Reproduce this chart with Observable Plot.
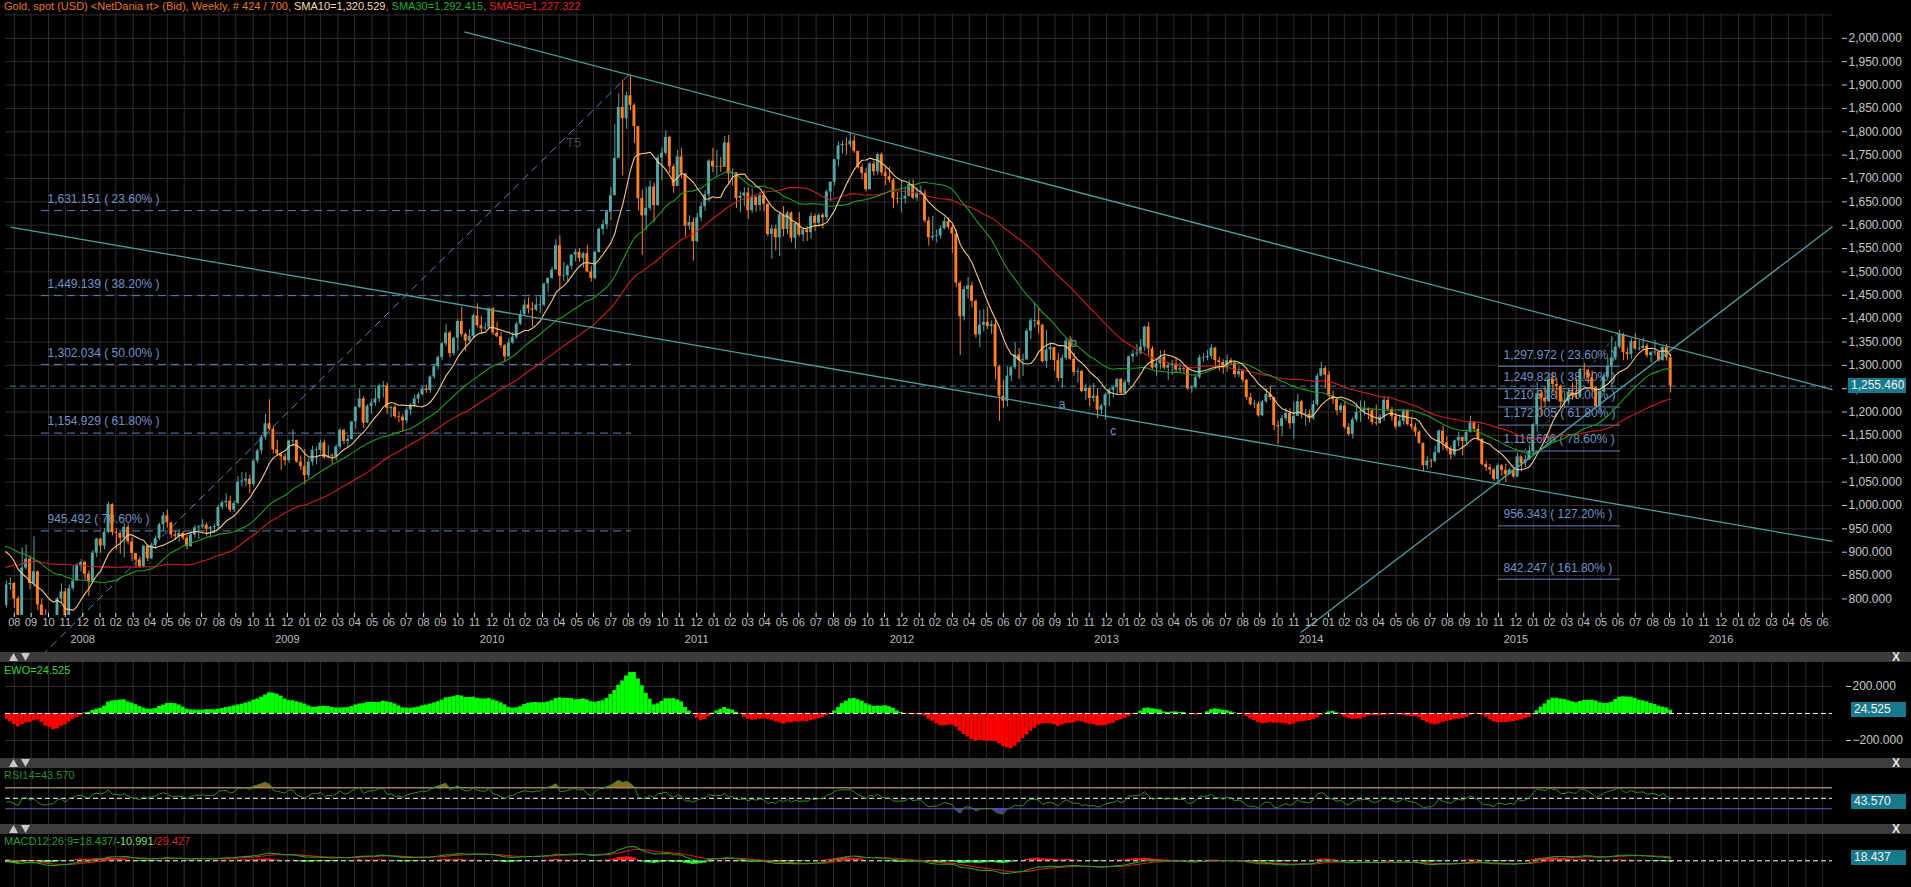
<!DOCTYPE html>
<html><head><meta charset="utf-8">
<script src="https://cdn.jsdelivr.net/npm/d3@7"></script>
<script src="https://cdn.jsdelivr.net/npm/@observablehq/plot@0.6"></script>
<style>
html,body{margin:0;padding:0;background:#000;}
#wrap{position:relative;width:1911px;height:887px;overflow:hidden;background:#000;font-family:"Liberation Sans",Arial,sans-serif;}
.bar{position:absolute;left:0;width:1911px;height:10px;background:#3c3c3c;}
.tri{position:absolute;left:9px;top:1px;}
.xx{position:absolute;left:1892px;top:-1px;font-size:12px;line-height:12px;color:#e6e6e6;font-weight:bold;}
.box{position:absolute;background:#177a8c;color:#f2f2f2;font-size:12px;line-height:15px;height:15px;padding-left:3px;box-sizing:border-box;}
.plabel{position:absolute;left:4px;font-size:11px;line-height:12px;white-space:nowrap;}
#title{position:absolute;left:4px;top:0;font-size:11px;line-height:12px;white-space:nowrap;color:#e8782a;}
</style></head>
<body><div id="wrap"></div>
<script>
// ---------------- DATA ----------------
// weekly gold spot closes before the visible range (Sep 2007 .. Aug 15 2008), used for moving averages
const preCloses = [698,713,732,743,737,750,766,784,806,834,789,824,783,800,798,812,842,
865,896,880,913,908,926,907,949,975,972,1001,920,933,912,925,913,889,853,885,894,925,887,903,871,903,928,933,960,953,927,914,864,786];
const firstOpen = 786;
const firstWeek = 2; // week index of first visible candle (weeks since Mon Aug 4 2008)
const closes = [
830,833,800,765,866,885,833,858,787,735,723,735,746,800,815,755,822,838,872,
878,853,838,898,928,913,943,1002,942,940,930,953,922,897,883,869,913,886,915,929,959,978,963,937,934,940,930,912,937,952,954,958,949,953,955,996,1006,1009,990,1004,1050,1052,1056,1045,1095,1117,1146,1175,1163,1119,1110,1104,
1096,1138,1139,1093,1083,1064,1093,1118,1118,1134,1102,1106,1105,1125,1161,1137,1141,1179,1210,1228,1176,1212,1219,1228,1256,1256,1208,1210,1190,1189,1181,1204,1215,1228,1237,1249,1246,1275,1297,1317,1346,1369,1325,1358,1394,1366,1352,1362,1406,1385,1378,1380,1421,
1369,1361,1342,1318,1348,1360,1388,1409,1429,1421,1418,1429,1429,1474,1486,1504,1556,1491,1492,1512,1536,1542,1529,1539,1500,1486,1542,1591,1601,1628,1663,1743,1852,1828,1877,1856,1811,1657,1620,1636,1682,1642,1744,1754,1788,1725,1683,1746,1710,1598,1606,1565,
1616,1640,1665,1737,1725,1725,1724,1776,1710,1712,1657,1662,1669,1631,1660,1642,1663,1645,1580,1592,1573,1622,1591,1626,1572,1604,1579,1590,1584,1619,1604,1621,1616,1671,1692,1740,1770,1773,1772,1780,1758,1724,1711,1676,1731,1714,1751,1712,1704,1696,1657,1656,
1656,1662,1687,1658,1667,1667,1609,1573,1576,1577,1592,1608,1595,1581,1476,1404,1462,1470,1437,1365,1386,1392,1383,1387,1297,1234,1223,1277,1295,1322,1310,1312,1373,1395,1395,1386,1308,1333,1338,1310,1272,1315,1352,1313,1285,1287,1244,1251,1229,1234,1204,1213,
1237,1247,1252,1270,1240,1263,1318,1324,1326,1339,1382,1335,1294,1303,1318,1294,1300,1302,1290,1293,1292,1250,1252,1274,1316,1316,1319,1337,1310,1306,1294,1310,1305,1280,1287,1268,1231,1216,1217,1192,1222,1238,1231,1171,1169,1186,1197,1175,1191,1222,1195,1195,
1186,1216,1277,1293,1279,1234,1227,1203,1213,1167,1152,1183,1199,1201,1207,1203,1177,1175,1189,1225,1205,1190,1168,1180,1201,1173,1168,1157,1133,1085,1095,1094,1113,1159,1134,1121,1108,1138,1146,1137,1156,1177,1163,1142,1088,1081,1076,1056,1085,1075,1066,1076,
1061,1104,1089,1097,1116,1173,1239,1230,1222,1270,1259,1255,1221,1222,1243,1234,1232,1291,1290,1273,1252,1212,1243,1275,1298,1316,1339,1366,1327,1323,1351,1335,1336,1341,1321,1327,1328,1310,1338,1316,1255.46];
const highs = [
838,845,835,805,909,915,892,933,860,800,776,760,760,803,832,822,830,870,876,
884,881,860,903,930,930,950,1007,1004,950,942,962,960,932,895,890,915,915,920,935,962,985,990,960,945,948,945,936,940,958,957,970,962,955,960,1000,1010,1025,1020,1010,1062,1070,1070,1065,1098,1120,1150,1195,1226,1168,1140,1110,
1110,1140,1162,1140,1106,1120,1100,1127,1125,1140,1140,1128,1110,1130,1165,1162,1150,1180,1212,1249,1233,1216,1227,1250,1260,1265,1262,1213,1215,1200,1195,1210,1218,1236,1241,1253,1258,1278,1300,1320,1349,1387,1373,1360,1398,1424,1370,1376,1410,1432,1405,1390,1423,
1423,1392,1371,1345,1357,1370,1392,1417,1440,1445,1435,1446,1447,1476,1487,1510,1569,1577,1520,1515,1537,1548,1550,1542,1557,1512,1545,1594,1611,1632,1680,1815,1881,1911,1884,1921,1860,1810,1675,1680,1695,1690,1750,1765,1802,1790,1730,1760,1764,1710,1620,1615,
1625,1648,1673,1740,1764,1760,1745,1790,1792,1720,1712,1672,1680,1680,1677,1660,1670,1673,1645,1600,1600,1627,1640,1630,1628,1606,1627,1592,1597,1626,1624,1625,1625,1675,1693,1741,1778,1780,1787,1796,1792,1756,1730,1722,1735,1737,1754,1755,1723,1724,1700,1670,
1693,1680,1696,1697,1680,1684,1675,1617,1619,1590,1598,1617,1615,1600,1590,1480,1469,1488,1478,1440,1417,1420,1424,1395,1397,1300,1268,1297,1298,1348,1336,1324,1378,1400,1434,1423,1387,1374,1347,1337,1326,1322,1356,1362,1326,1294,1290,1260,1256,1261,1250,1217,
1240,1251,1256,1272,1272,1268,1320,1332,1345,1355,1384,1392,1340,1310,1331,1332,1306,1310,1315,1305,1299,1296,1256,1277,1322,1325,1332,1345,1338,1317,1312,1322,1315,1305,1297,1290,1270,1240,1225,1222,1225,1250,1255,1230,1180,1193,1208,1207,1221,1238,1225,1205,
1204,1224,1282,1307,1297,1287,1245,1230,1219,1223,1175,1188,1219,1224,1223,1209,1205,1215,1195,1232,1232,1210,1198,1194,1205,1205,1187,1175,1160,1133,1105,1099,1127,1162,1170,1147,1126,1140,1157,1140,1159,1191,1178,1173,1142,1095,1088,1080,1089,1088,1088,1080,
1080,1112,1098,1107,1127,1175,1263,1246,1253,1280,1284,1272,1258,1244,1251,1262,1271,1293,1304,1290,1288,1255,1247,1280,1315,1362,1350,1375,1368,1337,1357,1368,1353,1358,1346,1330,1353,1330,1340,1345,1323];
const lows = [
780,818,780,740,760,862,820,825,775,681,700,712,705,730,790,740,752,818,838,
858,840,805,835,888,898,905,940,935,905,896,888,915,880,866,865,866,880,884,906,925,945,952,930,925,921,925,905,910,930,927,950,935,930,940,950,990,995,985,985,1003,1040,1040,1025,1040,1090,1110,1140,1160,1110,1105,1075,
1085,1090,1125,1090,1075,1044,1058,1085,1087,1110,1100,1100,1088,1095,1120,1130,1125,1140,1163,1207,1165,1175,1195,1212,1220,1230,1195,1188,1185,1177,1157,1175,1192,1210,1218,1235,1240,1240,1270,1290,1310,1340,1316,1320,1330,1360,1330,1350,1357,1380,1365,1375,1378,
1364,1359,1336,1308,1324,1345,1355,1385,1405,1410,1382,1415,1411,1426,1455,1484,1504,1462,1480,1478,1505,1522,1521,1508,1498,1478,1483,1540,1578,1590,1610,1684,1745,1705,1805,1845,1775,1630,1535,1588,1630,1605,1640,1695,1750,1710,1668,1695,1700,1575,1590,1523,
1562,1608,1630,1650,1712,1705,1713,1725,1688,1683,1636,1627,1640,1612,1625,1628,1630,1628,1575,1527,1545,1533,1575,1580,1562,1548,1575,1564,1565,1570,1586,1598,1592,1610,1650,1684,1725,1753,1750,1765,1754,1720,1697,1671,1675,1705,1707,1705,1685,1690,1635,1645,
1626,1645,1660,1655,1651,1664,1604,1555,1566,1562,1570,1590,1590,1540,1466,1321,1395,1442,1423,1358,1338,1371,1377,1366,1269,1180,1207,1211,1265,1291,1270,1276,1310,1355,1380,1367,1305,1294,1312,1287,1265,1251,1311,1310,1277,1262,1241,1225,1211,1221,1186,1195,
1182,1211,1230,1235,1238,1240,1257,1306,1318,1322,1330,1321,1290,1277,1291,1290,1268,1278,1285,1282,1283,1246,1240,1250,1270,1306,1310,1313,1293,1287,1281,1285,1301,1273,1274,1262,1225,1213,1207,1189,1190,1218,1225,1160,1131,1147,1180,1163,1142,1190,1186,1170,
1176,1182,1212,1275,1250,1230,1216,1192,1197,1163,1148,1142,1177,1178,1192,1183,1172,1170,1175,1180,1200,1180,1162,1170,1172,1170,1162,1147,1131,1072,1077,1080,1091,1110,1117,1115,1098,1104,1126,1107,1131,1155,1157,1137,1085,1073,1065,1052,1046,1062,1049,1065,
1058,1060,1072,1081,1096,1110,1157,1191,1210,1224,1240,1225,1209,1208,1215,1225,1227,1230,1270,1260,1243,1209,1200,1242,1272,1251,1310,1335,1310,1311,1313,1332,1330,1332,1316,1305,1320,1307,1309,1309,1241];

const yTickValues = [800,850,900,950,1000,1050,1100,1150,1200,1250,1300,1350,1400,1450,1500,1550,1600,1650,1700,1750,1800,1850,1900,1950,2000];
const yearLabels = ["2008","2009","2010","2011","2012","2013","2014","2015","2016"];
const fibLeftValues = [1631.151,1449.139,1302.034,1154.929,945.492];
const fibLeftLabels = ["1,631.151 ( 23.60% )","1,449.139 ( 38.20% )","1,302.034 ( 50.00% )","1,154.929 ( 61.80% )","945.492 ( 78.60% )"];
const fibRightValues = [1297.972,1249.828,1210.918,1172.005,1116.606,956.343,842.247];
const fibRightLabels = ["1,297.972 ( 23.60% )","1,249.828 ( 38.20% )","1,210.918 ( 50.00% )","1,172.005 ( 61.80% )","1,116.606 ( 78.60% )","956.343 ( 127.20% )","842.247 ( 161.80% )"];
// trend lines: [week1, price1, week2, price2]
const trendUpper = [118.7, 2014, 467.24, 1248];
const trendLower = [3.03, 1596, 467.24, 923];
const trendRising = [331.8, 728, 467.24, 1597];
const fibLeftAnchor = [11, 678.7, 161, 1925.36];
const fibRightAnchor = [382, 1046.04, 413, 1375.79];
const waveLabels = ["a","b","c"];
const waveWeeks = [270.98, 273.9, 283.97];
const wavePrices = [1216, 1348, 1159];

// ---------------- HELPERS ----------------
const W0 = Date.UTC(2008,7,4);
const wk = d => (d - W0) / (7*864e5);
const px2w = x => (x + 1.9) / 3.925;
const XDOM = [px2w(5), px2w(1832)];
const GRID = "#2d2d2d", UP = "#55a5a5", DN = "#ff7f27", FIB = "#5f82b8", FIBT = "#7194c8", TL = "#4f9e9e";

const candles = closes.map((c,i) => {
  const o = i ? closes[i-1] : firstOpen;
  let b1 = Math.min(o,c), b2 = Math.max(o,c);
  if (b2 - b1 < 1.5) { const m = (b1+b2)/2; b1 = m - 0.75; b2 = m + 0.75; }
  return {w: firstWeek + i, o, c, h: Math.max(highs[i],o,c), l: Math.min(lows[i],o,c), b1, b2, up: c >= o};
});
const all = preCloses.concat(closes);
const wOf = i => i - preCloses.length + firstWeek;
function sma(arr,n){return arr.map((_,i)=> i<n-1 ? null : d3.mean(arr.slice(i-n+1,i+1)));}
function ema(arr,n){const k=2/(n+1);let e=arr[0];return arr.map((v,i)=> (e = i ? v*k + e*(1-k) : v));}
function rsi(arr,n){const out=arr.map(()=>null);let g=0,l=0;for(let i=1;i<=n;i++){const d=arr[i]-arr[i-1];if(d>0)g+=d;else l-=d;}g/=n;l/=n;out[n]=100-100/(1+g/l);
  for(let i=n+1;i<arr.length;i++){const d=arr[i]-arr[i-1];g=(g*(n-1)+Math.max(d,0))/n;l=(l*(n-1)+Math.max(-d,0))/n;out[i]=l===0?100:100-100/(1+g/l);}return out;}
const toPts = arr => arr.map((v,i)=>({w:wOf(i), v})).filter(d => d.v != null && d.w >= 1);
const sma10 = toPts(sma(all,10)), sma30 = toPts(sma(all,30)), sma50 = toPts(sma(all,50));
const s5 = sma(all,5), s35 = sma(all,35);
const ewo = toPts(all.map((_,i)=> s35[i]==null?null:s5[i]-s35[i])).filter(d=>d.w>=firstWeek);
const rsiPts = toPts(rsi(all,14)).filter(d=>d.w>=firstWeek);
const e12 = ema(all,12), e26 = ema(all,26);
const macdArr = all.map((_,i)=>e12[i]-e26[i]);
const sigArr = ema(macdArr,9);
const macdPts = toPts(macdArr).filter(d=>d.w>=firstWeek);
const sigPts = toPts(sigArr).filter(d=>d.w>=firstWeek);
const histPts = macdArr.map((v,i)=>({w:wOf(i), v: v - sigArr[i]})).filter(d=>d.w>=firstWeek);

const monthTicks = d3.utcMonth.range(new Date(Date.UTC(2008,8,1)), new Date(Date.UTC(2017,7,1)))
  .map(d => ({w: wk(d), label: d3.utcFormat("%m")(d3.utcMonth.offset(d,-1))}));
const yearTicks = yearLabels.map((y,i) => ({w: wk(Date.UTC(2009+i,0,1)), label: y}));
const link4 = a => [{x1:a[0], y1:a[1], x2:a[2], y2:a[3]}];
const lk = {x1:"x1", y1:"y1", x2:"x2", y2:"y2"};

const style = {background:"transparent", color:"#c8c8c8", fontFamily:"'Liberation Sans', Arial, sans-serif", fontSize:"11px", overflow:"hidden"};
const common = {width:1911, marginLeft:5, marginRight:79, style};

// ---------------- MAIN PRICE PANEL ----------------
const main = Plot.plot({...common, height:652, marginTop:13, marginBottom:37,
  x:{domain:XDOM, axis:null}, y:{domain:[764.5, 2053.1], axis:null},
  marks:[
    Plot.ruleY(d3.range(800,2051,50), {stroke:GRID}),
    Plot.ruleX(monthTicks, {x:"w", stroke:GRID}),
    Plot.ruleY(fibLeftValues, {x1:px2w(41), x2:px2w(631), stroke:FIB, strokeDasharray:"8,5"}),
    Plot.text(fibLeftValues, {x:px2w(47), y:d=>d, text:(d,i)=>fibLeftLabels[i], dy:-11.5, textAnchor:"start", fill:FIBT, fontSize:12}),
    Plot.ruleY(fibRightValues, {x1:px2w(1498), x2:px2w(1620), stroke:FIB}),
    Plot.text(fibRightValues, {x:px2w(1503), y:d=>d, text:(d,i)=>fibRightLabels[i], dy:-11.5, textAnchor:"start", fill:FIBT, fontSize:12}),
    Plot.ruleY([closes[closes.length-1]], {x1:px2w(10), x2:XDOM[1], stroke:"#3f86a0", strokeDasharray:"6,4"}),
    Plot.link(link4(fibLeftAnchor), {...lk, stroke:FIB, strokeDasharray:"8,5"}),
    Plot.link(link4(fibRightAnchor), {...lk, stroke:"#555", strokeDasharray:"4,3"}),
    Plot.text(["T5"], {x:146.5, y:1777, text:d=>d, fill:"#4a4a4a", fontSize:13}),
    Plot.text(waveLabels, {x:(d,i)=>waveWeeks[i], y:(d,i)=>wavePrices[i], text:d=>d, fill:FIBT, fontSize:12}),
    Plot.ruleX(candles.filter(d=>d.up), {x:"w", y1:"l", y2:"h", stroke:UP, clip:true}),
    Plot.ruleX(candles.filter(d=>!d.up), {x:"w", y1:"l", y2:"h", stroke:DN, clip:true}),
    Plot.rect(candles.filter(d=>d.up), {x1:d=>d.w-0.37, x2:d=>d.w+0.37, y1:"b1", y2:"b2", fill:UP, clip:true}),
    Plot.rect(candles.filter(d=>!d.up), {x1:d=>d.w-0.37, x2:d=>d.w+0.37, y1:"b1", y2:"b2", fill:DN, clip:true}),
    Plot.line(sma50, {x:"w", y:"v", stroke:"#cc2020", strokeWidth:1.1, clip:true}),
    Plot.line(sma30, {x:"w", y:"v", stroke:"#1e9e1e", strokeWidth:1.1, clip:true}),
    Plot.line(sma10, {x:"w", y:"v", stroke:"#f3c98a", strokeWidth:1.1, clip:true}),
    Plot.link(link4(trendUpper), {...lk, stroke:TL, strokeWidth:1.3}),
    Plot.link(link4(trendLower), {...lk, stroke:TL, strokeWidth:1.3}),
    Plot.link(link4(trendRising), {...lk, stroke:TL, strokeWidth:1.3}),
    Plot.ruleX(monthTicks, {x:"w", y1:769, y2:760, stroke:"#dddddd"}),
    Plot.text(monthTicks, {x:"w", frameAnchor:"bottom", dy:10, text:"label", fill:"#bdbdbd", fontSize:11}),
    Plot.text(yearTicks, {x:"w", frameAnchor:"bottom", dy:27, text:"label", fill:"#bdbdbd", fontSize:11}),
    Plot.ruleY(yTickValues, {x1:px2w(1842), x2:px2w(1847), stroke:"#c8c8c8"}),
    Plot.text(yTickValues, {frameAnchor:"right", y:d=>d, dx:16, text:d=>d3.format(",.3f")(d), textAnchor:"start", fill:"#c8c8c8", fontSize:12})
  ]});

// ---------------- EWO PANEL ----------------
const ewoPlot = Plot.plot({...common, height:96, marginTop:0, marginBottom:0,
  x:{domain:XDOM, axis:null}, y:{domain:[-333, 377.8], axis:null},
  marks:[
    Plot.ruleX(monthTicks, {x:"w", stroke:GRID}),
    Plot.ruleY([200,-200], {stroke:GRID}),
    Plot.rect(ewo.filter(d=>d.v>=0), {x1:d=>d.w-0.5, x2:d=>d.w+0.5, y1:0, y2:"v", fill:"#00ff00", clip:true}),
    Plot.rect(ewo.filter(d=>d.v<0), {x1:d=>d.w-0.5, x2:d=>d.w+0.5, y1:0, y2:"v", fill:"#ff0000", clip:true}),
    Plot.ruleY([0], {stroke:"#ffffff", strokeDasharray:"5,3"}),
    Plot.ruleY([200,-200], {x1:px2w(1846), x2:px2w(1851), stroke:"#c8c8c8"}),
    Plot.text([200,-200], {frameAnchor:"right", y:d=>d, dx:20, text:d=>d3.format(".3f")(d), textAnchor:"start", fill:"#c8c8c8", fontSize:12})
  ]});

// ---------------- RSI PANEL ----------------
const rsiPlot = Plot.plot({...common, height:56, marginTop:0, marginBottom:0,
  x:{domain:XDOM, axis:null}, y:{domain:[0.1, 106.8], axis:null},
  marks:[
    Plot.ruleX(monthTicks, {x:"w", stroke:GRID}),
    Plot.areaY(rsiPts, {x:"w", y1:70, y2:d=>Math.max(d.v,70), fill:"#8a6a1e", clip:true}),
    Plot.areaY(rsiPts, {x:"w", y1:d=>Math.min(d.v,30), y2:30, fill:"#4b3c9c", clip:true}),
    Plot.ruleY([70], {stroke:"#e6bd7e"}),
    Plot.ruleY([30], {stroke:"#6a52cc"}),
    Plot.ruleY([50], {stroke:"#ffffff", strokeDasharray:"5,3"}),
    Plot.line(rsiPts, {x:"w", y:"v", stroke:"#2f8f2f", strokeWidth:1, clip:true})
  ]});

// ---------------- MACD PANEL ----------------
const mmax = d3.max(macdPts, d=>d.v), mmin = d3.min(macdPts, d=>d.v);
const mScale = (15.3/mmax + 11.7/(-mmin)) / 2;
const macdPlot = Plot.plot({...common, height:53, marginTop:0, marginBottom:0,
  x:{domain:XDOM, axis:null}, y:{domain:[-(53-26.3)/mScale, 26.3/mScale], axis:null},
  marks:[
    Plot.ruleX(monthTicks, {x:"w", stroke:GRID}),
    Plot.rect(histPts.filter(d=>d.v>=0), {x1:d=>d.w-0.5, x2:d=>d.w+0.5, y1:0, y2:"v", fill:"#ff1a1a", clip:true}),
    Plot.rect(histPts.filter(d=>d.v<0), {x1:d=>d.w-0.5, x2:d=>d.w+0.5, y1:0, y2:"v", fill:"#22ee22", clip:true}),
    Plot.ruleY([0], {stroke:"#ffffff", strokeDasharray:"5,3"}),
    Plot.line(sigPts, {x:"w", y:"v", stroke:"#d42020", strokeWidth:1.1, clip:true}),
    Plot.line(macdPts, {x:"w", y:"v", stroke:"#1fa01f", strokeWidth:1.1, clip:true})
  ]});

// ---------------- ASSEMBLY ----------------
const wrap = document.getElementById("wrap");
function place(node, top){ node.style.position="absolute"; node.style.left="0px"; node.style.top=top+"px"; wrap.appendChild(node); }
place(main, 0); place(ewoPlot, 662); place(rsiPlot, 768); place(macdPlot, 834);

function addDiv(cls, top, html, extra){ const d=document.createElement("div"); d.className=cls; d.style.top=top+"px"; d.innerHTML=html; if(extra) Object.assign(d.style, extra); wrap.appendChild(d); return d; }
const title = addDiv("", 0, 'Gold, spot (USD) &lt;NetDania rt&gt; (Bid), Weekly, # 424 / 700, <span style="color:#f5dcae">SMA10=1,320.529</span>, <span style="color:#22b022">SMA30=1,292.415</span>, <span style="color:#e02626">SMA50=1,227.322</span>');
title.id = "title";
const triSvg = '<svg class="tri" width="22" height="8" viewBox="0 0 22 8"><polygon points="0,8 4.5,0 9,8" fill="#c8c8c8"/><polygon points="12,0 21,0 16.5,8" fill="#c8c8c8"/></svg>';
[652, 758, 824].forEach(t => { addDiv("bar", t, triSvg + '<span class="xx">X</span>'); });

const lastC = closes[closes.length-1];
const yMain = main.scale("y");
addDiv("box", yMain.apply(lastC) - 7.5, d3.format(",.3f")(lastC), {left:"1848px", width:"58px"});
const lastE = ewo[ewo.length-1].v, lastR = rsiPts[rsiPts.length-1].v, lastM = macdPts[macdPts.length-1].v;
addDiv("box", 662 + ewoPlot.scale("y").apply(lastE) - 7.5, "24.525", {left:"1851px", width:"55px"});
addDiv("box", 768 + rsiPlot.scale("y").apply(lastR) - 7.5, "43.570", {left:"1851px", width:"55px"});
addDiv("box", 834 + macdPlot.scale("y").apply(lastM) - 7.5, "18.437", {left:"1851px", width:"55px"});

addDiv("plabel", 664, '<span style="color:#35d435">EWO=24.525</span>');
addDiv("plabel", 769, '<span style="color:#2d8c2d">RSI14=43.570</span>');
addDiv("plabel", 835, '<span style="color:#2d9a2d">MACD12;26;9=18.437/</span><span style="color:#7ee07e">-10.991</span><span style="color:#d42a2a">/29.427</span>');
</script>
</body></html>
